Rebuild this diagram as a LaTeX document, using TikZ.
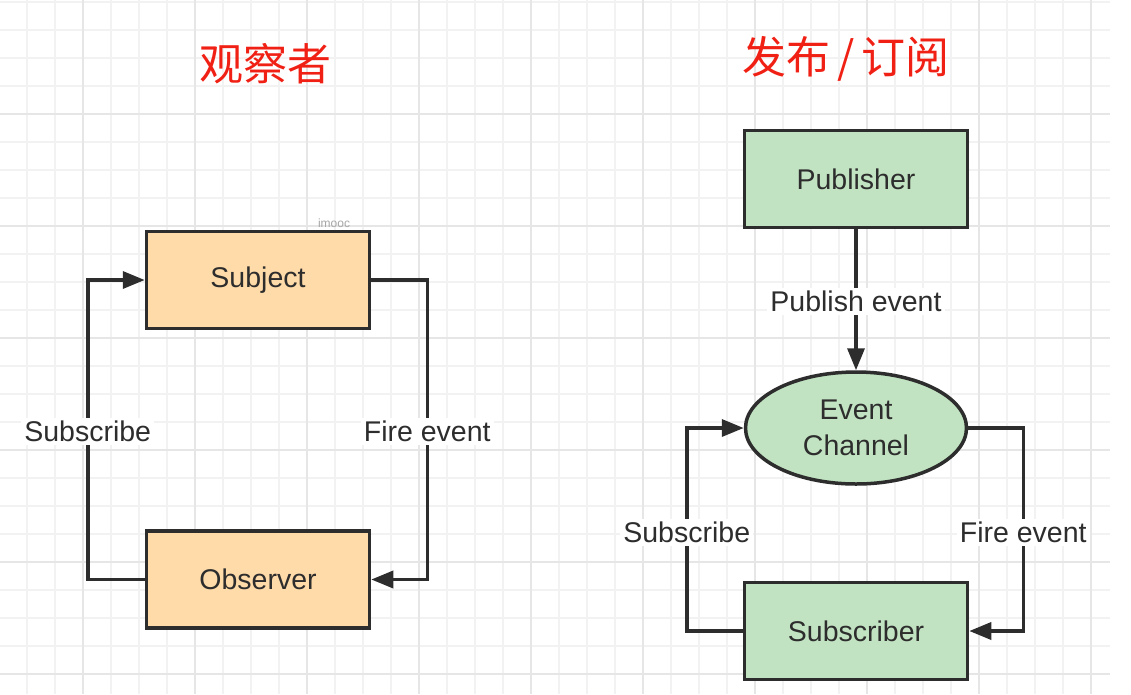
\documentclass[tikz,border=0pt]{standalone}
\usepackage{fontspec}
\setmainfont{Liberation Sans}
\newfontfamily\cjkfont{Noto Sans CJK SC}
\usetikzlibrary{arrows.meta,positioning,shapes.geometric}
\definecolor{obsfill}{RGB}{255,219,169}
\definecolor{pubfill}{RGB}{194,227,194}
\definecolor{linecol}{RGB}{45,45,45}
\definecolor{titlered}{RGB}{240,32,20}
\definecolor{gridminor}{RGB}{242,242,242}
\definecolor{gridmajor}{RGB}{230,230,230}
\tikzset{
  obsbox/.style={
    draw=linecol,
    fill=obsfill,
    rectangle,
    line width=3.5pt,
    minimum width=223pt,
    minimum height=97pt,
    text=linecol,
    font=\fontsize{28.5}{32}\selectfont
  },
  pubbox/.style={
    obsbox,
    fill=pubfill
  },
  channel/.style={
    draw=linecol,
    fill=pubfill,
    ellipse,
    line width=3.5pt,
    minimum width=221pt,
    minimum height=112pt,
    align=center,
    text=linecol,
    font=\fontsize{28.5}{36}\selectfont
  },
  arrow/.style={
    -{Triangle[length=22pt,width=17pt]}, line width=3.5pt, draw=linecol},
  link/.style={line width=3.5pt, draw=linecol}
}

\begin{document}
\begin{tikzpicture}[
    x=1pt, y=-1pt,
    lbl/.style={fill=white, text=linecol, inner sep=3pt,
        font=\fontsize{28.5}{32}\selectfont},
    title/.style={text=titlered, font=\cjkfont\fontsize{44}{48}\selectfont}
]
\useasboundingbox (0,0) rectangle (1131,694);

% grid background
\foreach \gx in {-1,27,...,1110}
    \draw[gridminor, line width=1.5pt] (\gx,0) -- (\gx,694);
\foreach \gy in {2,30,...,694}
    \draw[gridminor, line width=1.5pt] (0,\gy) -- (1110,\gy);
\foreach \gx in {83,195,...,1110}
    \draw[gridmajor, line width=2pt] (\gx,0) -- (\gx,694);
\foreach \gy in {114,226,...,694}
    \draw[gridmajor, line width=2pt] (0,\gy) -- (1110,\gy);

% titles
\node[title] (t1) at (265,64) {观察者};
\node[title] (t2) at (846,59) {发布\,/\,订阅};

% observer pattern
\node[obsbox] (subject) at (258,280) {Subject};
\node[obsbox, below=199pt of subject] (observer) {Observer};
\node[text=gray!70, font=\fontsize{12}{14}\selectfont, anchor=south]
    (mark) at (334,231) {imooc};

\draw[arrow] (observer.west) -- ++(-57,0) |-
    node[lbl, pos=0.25, yshift=-2pt] {Subscribe} (subject.west);
\draw[arrow] (subject.east) -- ++(56,0) |-
    node[lbl, pos=0.25, yshift=-2pt] {Fire event} (observer.east);

% publish / subscribe
\node[pubbox]  (publisher) at (856,179) {Publisher};
\node[channel, below=141pt of publisher] (evchan) {Event\\Channel};
\node[pubbox,  below=95pt of evchan] (subscriber) {Subscriber};

\draw[arrow] (publisher) -- node[lbl, yshift=-2pt] {Publish event} (evchan);
\draw[arrow] (subscriber.west) -- ++(-56,0) |-
    node[lbl, pos=0.25, yshift=-3pt] {Subscribe} (evchan.west);
\draw[arrow] (evchan.east) -- ++(55,0) |-
    node[lbl, pos=0.25, yshift=-3pt] {Fire event} (subscriber.east);
\end{tikzpicture}
\end{document}
